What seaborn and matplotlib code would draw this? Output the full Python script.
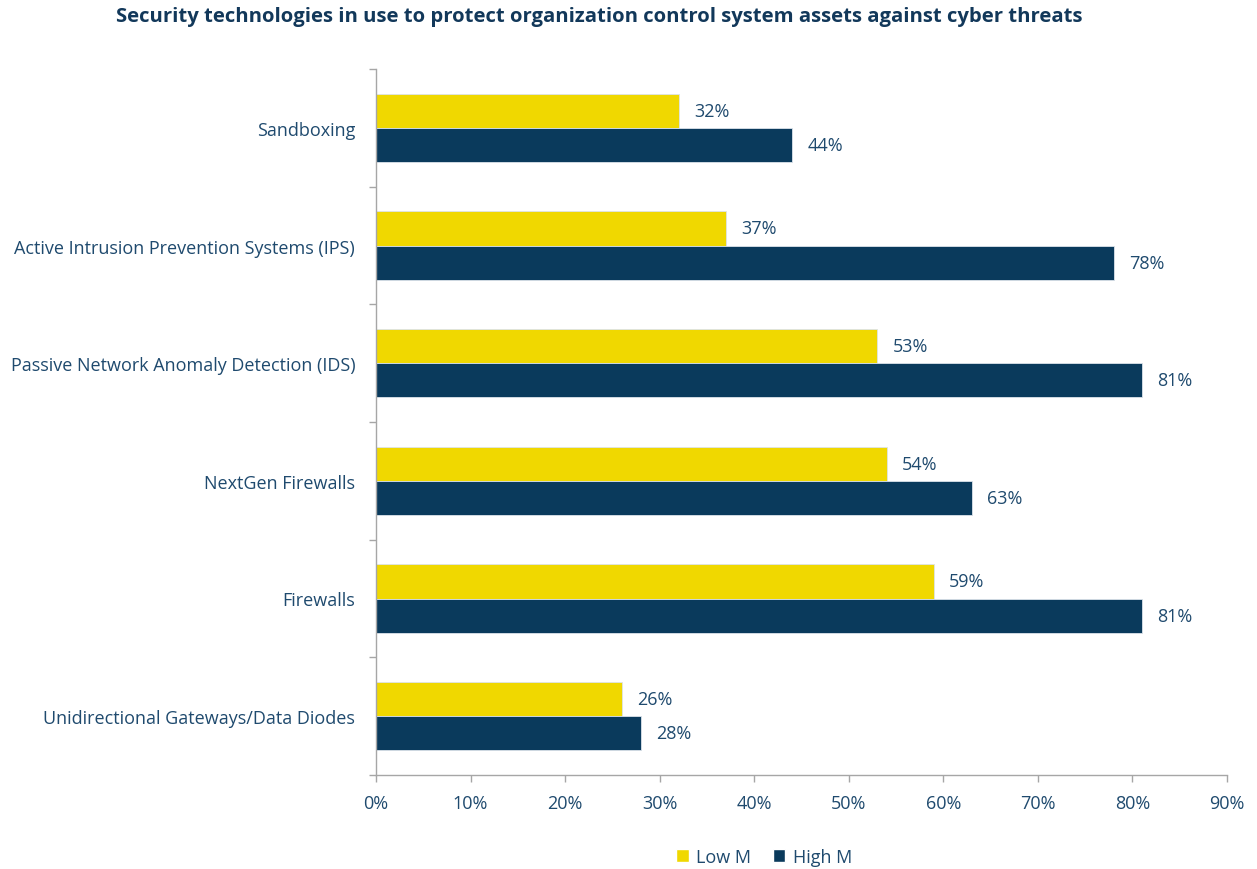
import matplotlib
matplotlib.use("Agg")
import matplotlib.pyplot as plt
import seaborn as sns
import pandas as pd
from matplotlib.patches import Patch
from matplotlib.ticker import PercentFormatter

categories = [
    "Sandboxing",
    "Active Intrusion Prevention Systems (IPS)",
    "Passive Network Anomaly Detection (IDS)",
    "NextGen Firewalls",
    "Firewalls",
    "Unidirectional Gateways/Data Diodes",
]
low_m = [32, 37, 53, 54, 59, 26]
high_m = [44, 78, 81, 63, 81, 28]
series_names = ["Low M", "High M"]
x_ticks = [0, 10, 20, 30, 40, 50, 60, 70, 80, 90]

YELLOW = "#F0D800"
NAVY = "#0A3A5C"
TEXT = "#1F4A6E"
AXIS = "#A6A6A6"

df = pd.DataFrame({
    "category": categories * 2,
    "series": [series_names[0]] * len(categories) + [series_names[1]] * len(categories),
    "value": low_m + high_m,
})

sns.set_theme(style="white")
plt.rcParams["font.family"] = ["Open Sans", "DejaVu Sans"]

FS = 13

fig = plt.figure(figsize=(12.57, 8.70), dpi=100)
ax = fig.add_axes([376 / 1257, 1 - 776 / 870, (1227 - 376) / 1257, (776 - 70) / 870])

sns.barplot(
    data=df, y="category", x="value", hue="series", order=categories,
    hue_order=series_names, palette=[YELLOW, NAVY], orient="h",
    width=0.58, saturation=1, legend=False, ax=ax,
    edgecolor="#DCE3EA", linewidth=0.6,
)

# value labels at the end of each bar
for container in ax.containers:
    ax.bar_label(container, labels=[f"{v:.0f}%" for v in container.datavalues],
                 padding=11, fontsize=FS, color=TEXT)

ax.set_xlim(0, 90)
ax.set_ylim(len(categories) - 0.5, -0.5)
ax.set_xticks(x_ticks)
ax.xaxis.set_major_formatter(PercentFormatter(decimals=0))
ax.set_xlabel("")
ax.set_ylabel("")

# category labels at band centres, tick marks at band boundaries
ax.set_yticks([i + 0.5 for i in range(-1, len(categories))], minor=False)
ax.set_yticklabels([])
ax.set_yticks(range(len(categories)), minor=True)
ax.set_yticklabels(categories, minor=True)
ax.tick_params(axis="y", which="minor", length=0, pad=15, labelsize=FS, labelcolor=TEXT)
ax.tick_params(axis="y", which="major", length=5, width=1, color=AXIS, direction="out")
ax.tick_params(axis="x", length=5, width=1, color=AXIS, direction="out", pad=9,
               labelsize=FS, labelcolor=TEXT)
ax.tick_params(left=True, bottom=True)
ax.tick_params(axis="y", which="minor", left=False)

for side in ["top", "right"]:
    ax.spines[side].set_visible(False)
for side in ["left", "bottom"]:
    ax.spines[side].set_color(AXIS)
    ax.spines[side].set_linewidth(1)

fig.text(599 / 1257, 1 - 17 / 870, "Security technologies in use to protect organization control system assets against cyber threats",
         ha="center", va="center", fontsize=14.6, fontweight="bold", color="#12385A")

handles = [Patch(facecolor=YELLOW, label=series_names[0]), Patch(facecolor=NAVY, label=series_names[1])]
fig.legend(handles=handles, loc="center", bbox_to_anchor=(764 / 1257, 1 - 858 / 870), ncol=2,
           frameon=False, fontsize=FS, labelcolor=TEXT, handlelength=0.7, handleheight=0.7,
           handletextpad=0.4, columnspacing=1.2)

fig.savefig("out.png", dpi=100, facecolor="white")
